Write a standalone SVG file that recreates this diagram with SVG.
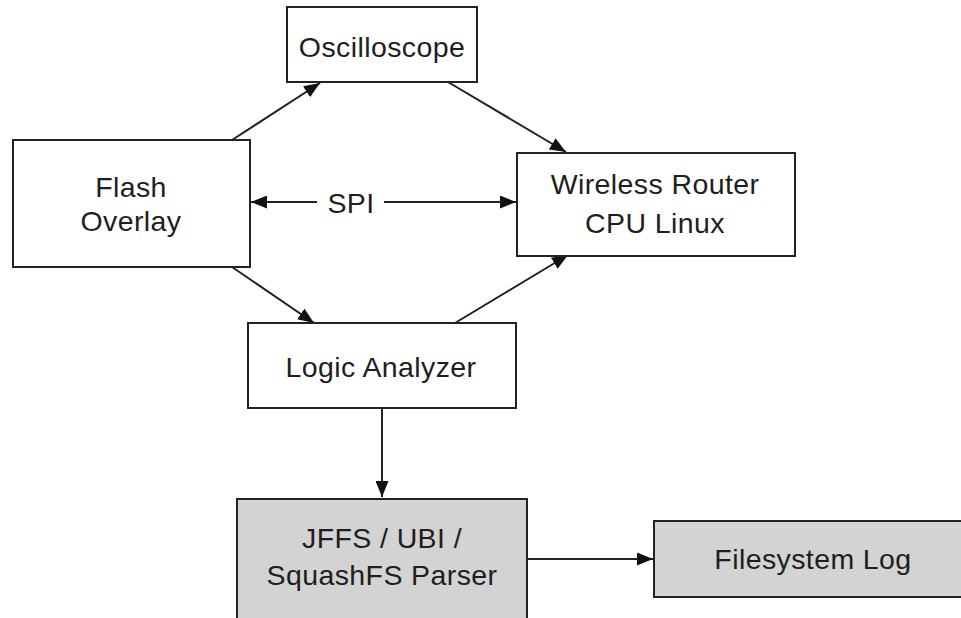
<svg xmlns="http://www.w3.org/2000/svg" width="961" height="618" viewBox="0 0 961 618">
<style>
.box{fill:#fff;stroke:#222;stroke-width:2}
.grey{fill:#d3d3d3;stroke:#222;stroke-width:2}
text{font-family:"Liberation Sans",Arial,Helvetica,sans-serif;font-size:28.5px;letter-spacing:0.4px;fill:#1e1e1e;text-anchor:middle}
.edge{stroke:#222;stroke-width:2;fill:none;marker-end:url(#ah)}
</style>
<defs>
<marker id="ah" markerUnits="userSpaceOnUse" markerWidth="17" markerHeight="13" refX="16" refY="6.5" orient="auto">
<path d="M0,0 L16,6.5 L0,13 z" fill="#111"/>
</marker>
</defs>
<rect width="961" height="618" fill="#fff"/>
<g id="connectors">
<line class="edge" x1="232" y1="140" x2="320" y2="83"/>
<line class="edge" x1="448" y1="82" x2="566" y2="152"/>
<line class="edge" x1="317" y1="202" x2="251" y2="202"/>
<line class="edge" x1="384" y1="202" x2="516" y2="202"/>
<line class="edge" x1="232" y1="267" x2="314" y2="323"/>
<line class="edge" x1="455" y1="323" x2="568" y2="255"/>
<line class="edge" x1="382" y1="408" x2="382" y2="497"/>
<line class="edge" x1="527" y1="559" x2="653" y2="559"/>
<text x="351" y="213">SPI</text>
</g>
<g id="oscilloscope">
<rect class="box" x="287" y="7" width="190" height="75"/>
<text x="382" y="57">Oscilloscope</text>
</g>
<g id="flash">
<rect class="box" x="13" y="140" width="237" height="127"/>
<text x="131" y="197">Flash</text>
<text x="131" y="231">Overlay</text>
</g>
<g id="router">
<rect class="box" x="517" y="153" width="278" height="103"/>
<text x="655" y="194">Wireless Router</text>
<text x="655" y="233">CPU Linux</text>
</g>
<g id="logic">
<rect class="box" x="248" y="323" width="268" height="85"/>
<text x="381" y="377">Logic Analyzer</text>
</g>
<g id="parser">
<rect class="grey" x="237" y="499" width="290" height="125"/>
<text x="382" y="548">JFFS / UBI /</text>
<text x="382" y="585">SquashFS Parser</text>
</g>
<g id="fslog">
<rect class="grey" x="654" y="521" width="310" height="76"/>
<text x="813" y="569">Filesystem Log</text>
</g>
</svg>
